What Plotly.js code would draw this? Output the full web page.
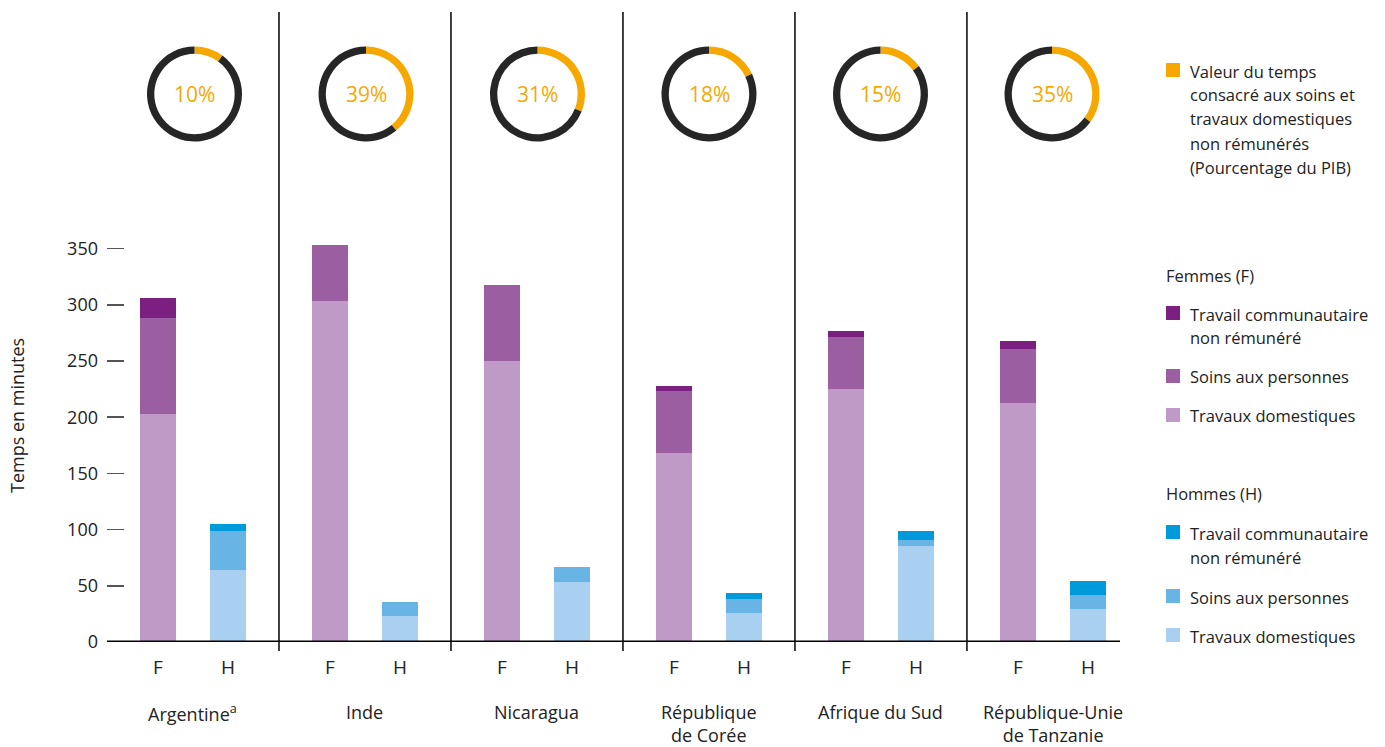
<!DOCTYPE html>
<html>
<head>
<meta charset="utf-8">
<script src="https://cdn.plot.ly/plotly-3.0.1.min.js"></script>
<style>html,body{margin:0;padding:0;background:#fff;}#chart{width:1385px;height:747px;}</style>
</head>
<body>
<div id="chart"></div>
<script>
// ---- Data ----
const countries = ['Argentine<sup>a</sup>', 'Inde', 'Nicaragua', 'République<br>de Corée', 'Afrique du Sud', 'République-Unie<br>de Tanzanie'];
const gdpShare = [10, 39, 31, 18, 15, 35];
const femmesTravaux = [203, 303, 250, 168, 225, 213];
const femmesSoins = [85, 50, 68, 55, 46, 48];
const femmesCommunautaire = [18, 0, 0, 5, 6, 7];
const hommesTravaux = [64, 23, 53, 26, 85, 29];
const hommesSoins = [35, 13, 14, 12, 6, 13];
const hommesCommunautaire = [6, 0, 0, 6, 8, 12];
const sexLabels = ['F', 'H'];
const yTicks = [0, 50, 100, 150, 200, 250, 300, 350];
const legendPib = ['Valeur du temps', 'consacré aux soins et', 'travaux domestiques', 'non rémunérés', '(Pourcentage du PIB)'];
const legendItems = [['Travail communautaire', 'non rémunéré'], ['Soins aux personnes'], ['Travaux domestiques']];

// ---- Layout geometry ----
const W = 1385, H = 747;
const M = {l: 107, r: 265, t: 12, b: 105};
const PW = W - M.l - M.r, PH = H - M.t - M.b;
const off = 0.2035, bw = 0.209;
const FONT = 'Open Sans, sans-serif';
const TXT = '#222';
const ORANGE = '#F7A800', DARK = '#262626';
const fCols = ['#BF9AC7', '#9B5FA1', '#7B1F80'];
const hCols = ['#A9D0F0', '#68B4E4', '#0099DA'];
const idx = countries.map((_, i) => i);
const px = x => (x - M.l) / PW;          // pixel -> paper x
const py = y => (H - M.b - y) / PH;      // pixel -> paper y

const traces = [];
function bar(vals, xs, color, name) {
  traces.push({type: 'bar', x: xs, y: vals, width: bw, name: name,
    marker: {color: color, line: {width: 0}}, showlegend: false, hoverinfo: 'y'});
}
const xF = idx.map(i => i - off), xH = idx.map(i => i + off);
bar(femmesTravaux, xF, fCols[0], 'F travaux');
bar(femmesSoins, xF, fCols[1], 'F soins');
bar(femmesCommunautaire, xF, fCols[2], 'F communautaire');
bar(hommesTravaux, xH, hCols[0], 'H travaux');
bar(hommesSoins, xH, hCols[1], 'H soins');
bar(hommesCommunautaire, xH, hCols[2], 'H communautaire');

// donuts
const annotations = [];
const shapes = [];
const R = 47.5, DCY = 94;
gdpShare.forEach((p, i) => {
  const cx = M.l + (i + 0.5) * 172 + 1.5 - 0.5 * i;
  traces.push({type: 'pie', values: [p, 100 - p], sort: false, direction: 'clockwise', rotation: 0,
    hole: 0.846, textinfo: 'none', hoverinfo: 'skip', showlegend: false,
    marker: {colors: [ORANGE, DARK], line: {width: 0}},
    domain: {x: [px(cx - R), px(cx + R)], y: [py(DCY + R), py(DCY - R)]}});
  annotations.push({xref: 'paper', yref: 'paper', x: px(cx), y: py(DCY), text: p + '%', showarrow: false,
    xanchor: 'center', yanchor: 'middle', font: {family: FONT, size: 21, color: ORANGE}});
});

// country labels
countries.forEach((c, i) => {
  annotations.push({xref: 'x', yref: 'paper', x: i, y: py(699), text: c, showarrow: false, borderpad: 0,
    xanchor: 'center', yanchor: 'top', font: {family: FONT, size: 18, color: TXT}});
});

// separators
for (let i = 0; i < countries.length - 1; i++) {
  shapes.push({type: 'line', xref: 'x', yref: 'paper', x0: i + 0.5, x1: i + 0.5, y0: py(651), y1: 1,
    line: {color: '#111', width: 1.6}});
}
// baseline
shapes.push({type: 'line', xref: 'paper', yref: 'y', x0: 0, x1: 1, y0: 0, y1: 0, line: {color: '#000', width: 3}});

// y title
annotations.push({xref: 'paper', yref: 'paper', x: px(17), y: py(416), text: 'Temps en minutes', textangle: -90,
  showarrow: false, xanchor: 'center', yanchor: 'middle', font: {family: FONT, size: 18, color: TXT}});

// legend
const LX = 1166, TX = 1188, SQ = 14, LH = 24, LF = 16.5;
function square(cy, color) {
  shapes.push({type: 'rect', xref: 'paper', yref: 'paper', x0: px(LX), x1: px(LX + SQ), y0: py(cy + SQ / 2), y1: py(cy - SQ / 2),
    fillcolor: color, line: {width: 0}});
}
function line(text, x, cy, weight) {
  annotations.push({xref: 'paper', yref: 'paper', x: px(x), y: py(cy), text: text, showarrow: false,
    xanchor: 'left', yanchor: 'middle', font: {family: FONT, size: LF, color: TXT, weight: weight || 400}});
}
square(70, ORANGE);
legendPib.forEach((t, k) => line(t, TX, 71 + k * LH));
function group(title, ty, starts, cols) {
  line(title, LX - 2, ty, 500);
  legendItems.forEach((lines, j) => {
    square(starts[j] - 1, cols[2 - j]);
    lines.forEach((t, k) => line(t, TX, starts[j] + k * LH));
  });
}
group('Femmes (F)', 275, [314, 377, 416], fCols);
group('Hommes (H)', 494, [533, 597, 636], hCols);

const layout = {
  width: W, height: H, margin: M, barmode: 'stack', bargap: 0,
  paper_bgcolor: '#fff', plot_bgcolor: '#fff', showlegend: false,
  font: {family: FONT, color: TXT},
  xaxis: {range: [-0.5, 5.39], tickvals: idx.flatMap(i => [i - off, i + off]),
    ticktext: idx.flatMap(() => sexLabels), ticks: '', showgrid: false, zeroline: false, showline: false,
    tickfont: {family: FONT, size: 19, color: TXT}, ticklabelstandoff: 12},
  yaxis: {range: [0, PH / 1.124], tickvals: yTicks, ticks: 'inside', ticklen: 17, tickwidth: 1.5, tickcolor: '#555',
    showgrid: false, zeroline: false, showline: false, tickfont: {family: FONT, size: 18, color: TXT}, ticklabelstandoff: 8},
  shapes: shapes, annotations: annotations
};
Plotly.newPlot('chart', traces, layout, {displayModeBar: false, staticPlot: true});
</script>
</body>
</html>
